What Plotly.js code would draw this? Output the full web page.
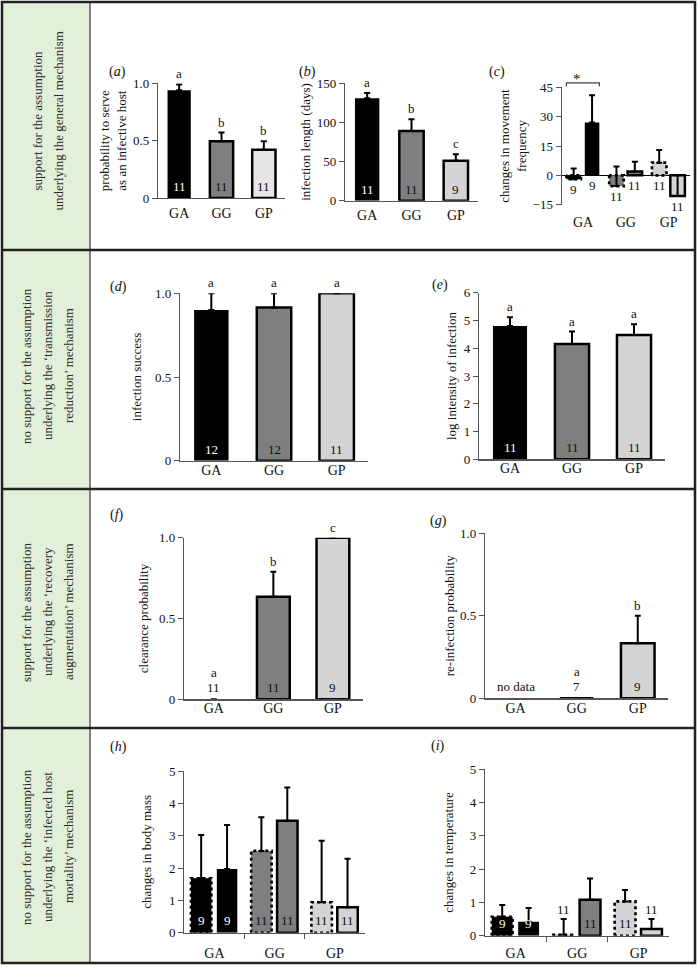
<!DOCTYPE html>
<html><head><meta charset="utf-8">
<script src="https://cdn.plot.ly/plotly-3.0.1.min.js"></script>
<style>html,body{margin:0;padding:0;background:#fff}#chart{width:698px;height:975px}</style>
</head><body><div id="chart"></div>
<script>
const categories = ['GA', 'GG', 'GP'];

// (a) probability to serve as an infective host
const infectiveProb = [0.94, 0.495, 0.42];
const infectiveProbErr = [0.05, 0.075, 0.075];
const infectiveProbLetters = ['a', 'b', 'b'];
const infectiveProbN = ['11', '11', '11'];

// (b) infection length (days)
const infectionLength = [131, 89, 51];
const infectionLengthErr = [6.5, 15, 8.5];
const infectionLengthLetters = ['a', 'b', 'c'];
const infectionLengthN = ['11', '11', '9'];

// (c) changes in movement frequency
const movementDotted = [-2, -5.5, 6.5];
const movementDottedErr = [5.5, 10, 6.5];
const movementSolid = [27, 2, -10.5];
const movementSolidErr = [14, 5, 10.5];
const movementDottedN = ['9', '11', '11'];
const movementSolidN = ['9', '11', '11'];

// (d) infection success
const infectionSuccess = [0.9, 0.915, 1.0];
const infectionSuccessErr = [0.1, 0.085, 0];
const infectionSuccessLetters = ['a', 'a', 'a'];
const infectionSuccessN = ['12', '12', '11'];

// (e) log intensity of infection
const logIntensity = [4.8, 4.15, 4.48];
const logIntensityErr = [0.32, 0.45, 0.38];
const logIntensityLetters = ['a', 'a', 'a'];
const logIntensityN = ['11', '11', '11'];

// (f) clearance probability
const clearanceProb = [0, 0.635, 1.0];
const clearanceProbErr = [0, 0.155, 0];
const clearanceLetters = ['a', 'b', 'c'];
const clearanceN = ['11', '11', '9'];

// (g) re-infection probability
const reinfectionProb = [null, 0, 0.333];
const reinfectionProbErr = [0, 0, 0.167];
const reinfectionLetters = ['', 'a', 'b'];
const reinfectionN = ['no data', '7', '9'];

// (h) changes in body mass
const bodyMassDotted = [1.68, 2.53, 0.94];
const bodyMassDottedErr = [1.34, 1.04, 1.9];
const bodyMassSolid = [1.97, 3.46, 0.785];
const bodyMassSolidErr = [1.36, 1.03, 1.5];
const bodyMassDottedN = ['9', '11', '11'];
const bodyMassSolidN = ['9', '11', '11'];

// (i) changes in temperature
const tempDotted = [0.57, 0.03, 1.03];
const tempDottedErr = [0.35, 0.47, 0.34];
const tempSolid = [0.42, 1.08, 0.2];
const tempSolidErr = [0.41, 0.64, 0.3];
const tempDottedN = ['9', '11', '11'];
const tempSolidN = ['9', '11', '11'];

const rowTexts = [
  ['support for the assumption', 'underlying the general mechanism'],
  ['no support for the assumption', 'underlying the \u2018transmission', 'reduction\u2019 mechanism'],
  ['support for the assumption', 'underlying the \u2018recovery', 'augmentation\u2019 mechanism'],
  ['no support for the assumption', 'underlying the \u2018infected host', 'mortality\u2019 mechanism']
];

// ---------------- styling / layout ----------------
const W = 698, H = 975;
const SERIF = 'Liberation Serif, Times New Roman, serif';
const INK = '#111';
const AX = '#555';
const BLACK = '#000000', MID = '#7f7f7f', LIGHT = '#d4d4d4', PALE = '#e6e6e6';

const traces = [], annotations = [], shapes = [];
const layout = {
  width: W, height: H, autosize: false,
  margin: {l: 0, r: 0, t: 0, b: 0},
  paper_bgcolor: '#fff', plot_bgcolor: 'rgba(0,0,0,0)',
  showlegend: false,
  font: {family: SERIF, color: INK, size: 13},
  annotations, shapes
};

function axNames(id) {
  const s = id === 1 ? '' : String(id);
  return {xa: 'xaxis' + s, ya: 'yaxis' + s, xr: 'x' + s, yr: 'y' + s};
}

// data -> paper conversion for decorations drawn outside the plot range
function toPaper(p, xv, yv) {
  const px = p.x[0] + (xv + 0.5) / 3 * (p.x[1] - p.x[0]);
  const py = p.y[1] - (yv - p.range[0]) / (p.range[1] - p.range[0]) * (p.y[1] - p.y[0]);
  return [px / W, 1 - py / H];
}

function setupAxes(p) {
  const n = axNames(p.id);
  const xa = {
    domain: [p.x[0] / W, p.x[1] / W], anchor: n.yr, range: [-0.5, 2.5],
    tickmode: 'array', tickvals: [0, 1, 2], ticktext: categories, ticks: '',
    showline: p.xline !== false, linecolor: AX, linewidth: 1.2,
    showgrid: false, zeroline: false, tickfont: {size: 14, color: INK},
    ticklabelstandoff: p.xstand, fixedrange: true
  };
  if (p.groupTicks) {
    xa.minor = {tickmode: 'array', tickvals: [0.5, 1.5], ticks: 'outside', ticklen: 5, tickwidth: 1, tickcolor: AX, showgrid: false};
  }
  layout[n.xa] = xa;
  layout[n.ya] = {
    domain: [1 - p.y[1] / H, 1 - p.y[0] / H], anchor: n.xr, range: p.range,
    tickmode: 'array', tickvals: p.tickvals, ticktext: p.ticktext,
    ticks: 'outside', ticklen: 5, tickwidth: 1, tickcolor: AX,
    showline: true, linecolor: AX, linewidth: 1.2, showgrid: false,
    zeroline: !!p.zero, zerolinecolor: '#000', zerolinewidth: 1.5,
    tickfont: {size: 13, color: INK},
    title: {text: p.title, font: {size: 13, color: INK}, standoff: p.standoff},
    fixedrange: true
  };
  annotations.push({xref: 'paper', yref: 'paper', x: p.label[0] / W, y: 1 - p.label[1] / H,
    text: '(<i>' + p.letter + '</i>)', showarrow: false, font: {size: 14, color: INK}});
}

function errBar(errs) {
  return {type: 'data', symmetric: false, array: errs, arrayminus: errs.map(() => 0),
    color: '#000', thickness: 2, width: 3};
}

function singlePanel(p, vals, errs, letters, ns, colors) {
  setupAxes(p);
  const n = axNames(p.id);
  traces.push({
    type: 'bar', x: [0, 1, 2], y: vals, xaxis: n.xr, yaxis: n.yr, width: 0.55,
    marker: {color: colors, line: {color: '#000', width: colors.map(c => c === BLACK ? 0 : 2.5)}},
    error_y: errBar(errs), cliponaxis: false, hoverinfo: 'skip'
  });
  vals.forEach((v, i) => {
    const top = (v || 0) + errs[i];
    if (letters[i]) annotations.push({xref: n.xr, yref: n.yr, x: i, y: top, yanchor: 'bottom',
      yshift: v ? 1 : 17, text: letters[i], showarrow: false, font: {size: 13, color: INK}});
    annotations.push({xref: n.xr, yref: n.yr, x: i, y: 0, yanchor: 'bottom', yshift: 2,
      text: ns[i], showarrow: false,
      font: {size: 13, color: (colors[i] === BLACK && v) ? '#fff' : INK}});
  });
}

const DOT = {off: -0.39, w: 0.34}, SOL = {off: 0.04, w: 0.34};

function groupPanel(p, dv, de, sv, se, dn, sn, colors, mode) {
  setupAxes(p);
  const n = axNames(p.id);
  const x = [0, 1, 2];
  traces.push({
    type: 'bar', x, y: dv, offset: DOT.off, width: DOT.w, xaxis: n.xr, yaxis: n.yr,
    marker: {color: colors, line: {width: 0}}, error_y: errBar(de),
    cliponaxis: false, hoverinfo: 'skip'
  });
  traces.push({
    type: 'bar', x, y: sv, offset: SOL.off, width: SOL.w, xaxis: n.xr, yaxis: n.yr,
    marker: {color: colors, line: {color: '#000', width: colors.map(c => c === BLACK ? 0 : 2.5)}},
    error_y: errBar(se), cliponaxis: false, hoverinfo: 'skip'
  });
  const ox = [], oy = [];
  dv.forEach((v, i) => {
    const x0 = i + DOT.off, x1 = x0 + DOT.w;
    ox.push(x0, x0, x1, x1, x0, null);
    oy.push(0, v, v, 0, 0, null);
  });
  traces.push({type: 'scatter', mode: 'lines', x: ox, y: oy, xaxis: n.xr, yaxis: n.yr,
    line: {color: '#000', width: 2.6, dash: 'dot'}, cliponaxis: false, hoverinfo: 'skip'});

  const place = (vals, errs, labels, set) => {
    vals.forEach((v, i) => {
      const cx = i + set.off + set.w / 2;
      let a;
      if (mode === 'below') {
        a = {y: Math.min(v, 0), yanchor: 'top', yshift: -1, dark: true};
      } else if (v < 0.3) {
        a = {y: v + errs[i], yanchor: 'bottom', yshift: 0, dark: true};
      } else {
        a = {y: 0, yanchor: 'bottom', yshift: 3, dark: colors[i] !== BLACK};
      }
      annotations.push({xref: n.xr, yref: n.yr, x: cx, y: a.y, yanchor: a.yanchor, yshift: a.yshift,
        text: labels[i], showarrow: false, font: {size: 13, color: a.dark ? INK : '#fff'}});
    });
  };
  place(dv, de, dn, DOT);
  place(sv, se, sn, SOL);
}

const probTicks = {tickvals: [0, 0.5, 1], ticktext: ['0', '0.5', '1.0']};

singlePanel({id: 1, letter: 'a', x: [158, 285], y: [83.3, 198], range: [0, 1], ...probTicks,
  title: 'probability to serve<br>as an infective host', standoff: 3, xstand: 2, label: [107, 62]},
  infectiveProb, infectiveProbErr, infectiveProbLetters, infectiveProbN, [BLACK, MID, PALE]);

singlePanel({id: 2, letter: 'b', x: [345, 478], y: [83.3, 200.7], range: [0, 150],
  tickvals: [0, 50, 100, 150], ticktext: ['0', '50', '100', '150'],
  title: 'infection length (days)', standoff: 3, xstand: 1, label: [307, 62]},
  infectionLength, infectionLengthErr, infectionLengthLetters, infectionLengthN, [BLACK, MID, LIGHT]);

const panelC = {id: 3, letter: 'c', x: [561.7, 690], y: [87.3, 204.7], range: [-15, 45],
  tickvals: [-15, 0, 15, 30, 45], ticktext: ['\u221215', '0', '15', '30', '45'], zero: true, xline: false,
  title: 'changes in movement<br>frequency', standoff: 3, xstand: 7, label: [507, 62]};
groupPanel(panelC,
  movementDotted, movementDottedErr, movementSolid, movementSolidErr, movementDottedN, movementSolidN,
  [BLACK, MID, LIGHT], 'below');

// significance bracket in (c), drawn above the axis range
{
  const x0 = 0 + DOT.off, x1 = 0 + SOL.off + SOL.w, yTop = 47.3, yEnd = 45.6;
  const a = toPaper(panelC, x0, yEnd), b = toPaper(panelC, x0, yTop);
  const c = toPaper(panelC, x1, yTop), d = toPaper(panelC, x1, yEnd);
  shapes.push({type: 'path', xref: 'paper', yref: 'paper',
    path: `M${a[0]},${a[1]} L${b[0]},${b[1]} L${c[0]},${c[1]} L${d[0]},${d[1]}`,
    line: {color: '#444', width: 1.2}});
  const m = toPaper(panelC, (x0 + x1) / 2, yTop);
  annotations.push({xref: 'paper', yref: 'paper', x: m[0], y: m[1], yanchor: 'bottom', yshift: -6,
    text: '*', showarrow: false, font: {size: 15, color: INK}});
}

singlePanel({id: 4, letter: 'd', x: [180, 368], y: [293.3, 460.7], range: [0, 1], ...probTicks,
  title: 'infection success', standoff: 10, xstand: -4, label: [108, 277]},
  infectionSuccess, infectionSuccessErr, infectionSuccessLetters, infectionSuccessN, [BLACK, MID, LIGHT]);

singlePanel({id: 5, letter: 'e', x: [479, 665], y: [292.7, 459.3], range: [0, 6],
  tickvals: [0, 1, 2, 3, 4, 5, 6], ticktext: ['0', '1', '2', '3', '4', '5', '6'],
  title: 'log intensity of infection', standoff: 4, xstand: -4, label: [440, 275]},
  logIntensity, logIntensityErr, logIntensityLetters, logIntensityN, [BLACK, MID, LIGHT]);

singlePanel({id: 6, letter: 'f', x: [184, 362.7], y: [537.7, 699.3], range: [0, 1], ...probTicks,
  title: 'clearance probability', standoff: 7, xstand: -4, label: [108, 515]},
  clearanceProb, clearanceProbErr, clearanceLetters, clearanceN, [BLACK, MID, LIGHT]);

singlePanel({id: 7, letter: 'g', x: [485, 668.3], y: [533.3, 698.3], range: [0, 1], ...probTicks,
  title: 're-infection probability', standoff: 2, xstand: -3, label: [438, 521]},
  reinfectionProb, reinfectionProbErr, reinfectionLetters, reinfectionN, [BLACK, MID, LIGHT]);

const fiveTicks = {tickvals: [0, 1, 2, 3, 4, 5], ticktext: ['0', '1', '2', '3', '4', '5']};

groupPanel({id: 8, letter: 'h', x: [184.3, 365], y: [771, 932.7], range: [0, 5], ...fiveTicks,
  title: 'changes in body mass', standoff: 14, xstand: 7, groupTicks: true, label: [108, 757]},
  bodyMassDotted, bodyMassDottedErr, bodyMassSolid, bodyMassSolidErr, bodyMassDottedN, bodyMassSolidN,
  [BLACK, MID, LIGHT], 'inside');

groupPanel({id: 9, letter: 'i', x: [485, 669.3], y: [769.3, 935.7], range: [0, 5], ...fiveTicks,
  title: 'changes in temperature', standoff: 13, xstand: 4, groupTicks: true, label: [438, 756]},
  tempDotted, tempDottedErr, tempSolid, tempSolidErr, tempDottedN, tempSolidN,
  [BLACK, MID, LIGHT], 'inside');

// ---------------- table frame ----------------
const rowEdges = [2, 250, 489, 728, 963];
const leftX = 2, splitX = 90, rightX = 695;
shapes.push({type: 'rect', xref: 'paper', yref: 'paper', layer: 'below',
  x0: leftX / W, x1: splitX / W, y0: 1 - rowEdges[4] / H, y1: 1 - rowEdges[0] / H,
  fillcolor: '#e2efd9', line: {width: 0}});
shapes.push({type: 'line', xref: 'paper', yref: 'paper', x0: splitX / W, x1: splitX / W,
  y0: 1 - rowEdges[4] / H, y1: 1 - rowEdges[0] / H, line: {color: '#808080', width: 2}});
rowEdges.slice(1, 4).forEach(y => shapes.push({type: 'line', xref: 'paper', yref: 'paper',
  x0: leftX / W, x1: rightX / W, y0: 1 - y / H, y1: 1 - y / H, line: {color: '#222', width: 2.5}}));
shapes.push({type: 'rect', xref: 'paper', yref: 'paper',
  x0: leftX / W, x1: rightX / W, y0: 1 - rowEdges[4] / H, y1: 1 - rowEdges[0] / H,
  line: {color: '#222', width: 2.5}});

// row descriptions (rotated)
rowTexts.forEach((lines, r) => {
  const cy = [121, 366, 612, 847][r];
  const spacing = 21, cx = (leftX + splitX) / 2 + 1;
  lines.forEach((t, k) => {
    const x = cx + (k - (lines.length - 1) / 2) * spacing;
    annotations.push({xref: 'paper', yref: 'paper', x: x / W, y: 1 - cy / H, xanchor: 'center', yanchor: 'middle',
      text: t, textangle: -90, showarrow: false, font: {size: 13, color: '#2a2a2a'}});
  });
});

Plotly.newPlot('chart', traces, layout, {staticPlot: true, displayModeBar: false});
</script>
</body></html>
